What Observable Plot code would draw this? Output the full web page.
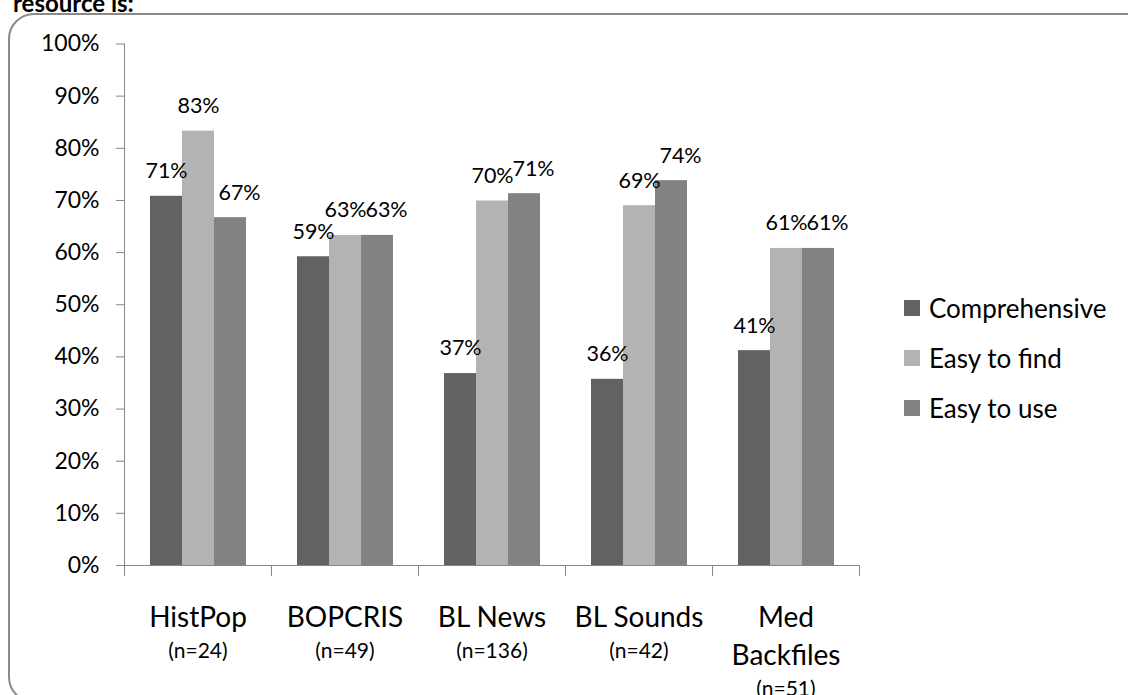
<!DOCTYPE html>
<html>
<head>
<meta charset="utf-8">
<script src="https://cdn.jsdelivr.net/npm/d3@7"></script>
<script src="https://cdn.jsdelivr.net/npm/@observablehq/plot@0.6"></script>
<style>
  html, body { margin: 0; padding: 0; width: 1128px; height: 695px; overflow: hidden; background: #fff; }
  body { position: relative; font-family: Lato, "Noto Sans", sans-serif; }
  #title { position: absolute; left: 13px; top: -9px; font-size: 24px; line-height: 24px; font-weight: bold; color: #000; white-space: nowrap; }
  #panel { position: absolute; left: 7.5px; top: 13px; width: 1150px; height: 690px; box-sizing: border-box;
           border: 2px solid #8a8a8a; border-radius: 26px; }
  #chart { position: absolute; left: 0; top: 0; }
  #legend { position: absolute; left: 904px; top: 283px; font-size: 26px; color: #000; }
  #legend .row { display: flex; align-items: center; height: 50px; }
  #legend .sw { width: 16px; height: 16px; margin-right: 9px; }
</style>
</head>
<body>
<div id="title">resource is:</div>
<div id="panel"></div>
<div id="chart"></div>
<div id="legend"></div>
<script>
// Survey ratings per online resource (share of respondents agreeing)
const series = ["Comprehensive", "Easy to find", "Easy to use"];
const resources = ["HistPop", "BOPCRIS", "BL News", "BL Sounds", "Med\nBackfiles"];
const sampleSizes = [24, 49, 136, 42, 51];
const comprehensive = [0.708, 0.592, 0.368, 0.357, 0.412];
const easyToFind = [0.833, 0.633, 0.699, 0.690, 0.608];
const easyToUse = [0.667, 0.633, 0.713, 0.738, 0.608];
const yTicks = [0, 0.1, 0.2, 0.3, 0.4, 0.5, 0.6, 0.7, 0.8, 0.9, 1];
const colors = ["#626262", "#b3b3b3", "#828282"];

const valuesBySeries = [comprehensive, easyToFind, easyToUse];
const rows = [];
resources.forEach((resource, i) => {
  series.forEach((s, j) => rows.push({resource, series: s, value: valuesBySeries[j][i]}));
});
const groups = resources.map((resource, i) => ({resource, n: sampleSizes[i]}));

const axisColor = "#868686";
const pct = d3.format(".0%");
const lastSeries = series[series.length - 1];
const labelStyle = {fx: "resource", x: "series", y: "value", text: d => pct(d.value), dy: -25, fontSize: 21.5, fill: "#000"};

const chart = Plot.plot({
  width: 1128,
  height: 695,
  marginLeft: 122,
  marginRight: 267,
  marginTop: 43.5,
  marginBottom: 130,
  style: {fontFamily: "Lato, 'Noto Sans', sans-serif", background: "transparent", color: "#000"},
  fx: {domain: resources, padding: 0, axis: null},
  x: {domain: series, paddingInner: 0, paddingOuter: 0.757, axis: null},
  y: {domain: [0, 1], axis: null},
  color: {domain: series, range: colors},
  marks: [
    // value axis with its line and outward ticks
    Plot.axisY({ticks: yTicks, tickFormat: pct, tickSize: 8, tickPadding: 17, fontSize: 23, stroke: axisColor, label: null}),
    Plot.frame({anchor: "left", facetAnchor: "left", stroke: axisColor}),
    Plot.barY(rows, {fx: "resource", x: "series", y: "value", fill: "series"}),
    // category axis: baseline and tick marks between groups
    Plot.ruleY([0], {stroke: axisColor}),
    Plot.frame({anchor: "left", stroke: axisColor, insetTop: 521.5, insetBottom: -10}),
    Plot.frame({anchor: "right", stroke: axisColor, insetTop: 521.5, insetBottom: -10}),
    // value labels above bars; the last series' labels sit a little to the right
    Plot.text(rows.filter(d => d.series !== lastSeries), labelStyle),
    Plot.text(rows.filter(d => d.series === lastSeries), {...labelStyle, dx: 9}),
    // category names and sample sizes
    Plot.text(groups, {fx: "resource", text: "resource", frameAnchor: "bottom", lineAnchor: "top",
      dy: 34, fontSize: 28, lineHeight: 1.36, fill: "#000"}),
    Plot.text(groups, {fx: "resource", text: d => d.resource.replace(/[^\n]/g, "") + `(n=${d.n})`,
      frameAnchor: "bottom", lineAnchor: "top", dy: 66, fontSize: 21, lineHeight: 1.81, fill: "#000"})
  ]
});
document.getElementById("chart").append(chart);

// legend built from the chart's color scale
const colorScale = chart.scale("color");
const legend = d3.select("#legend");
colorScale.domain.forEach((name, i) => {
  const row = legend.append("div").attr("class", "row");
  row.append("div").attr("class", "sw").style("background", colorScale.range[i]);
  row.append("span").text(name);
});
</script>
</body>
</html>
